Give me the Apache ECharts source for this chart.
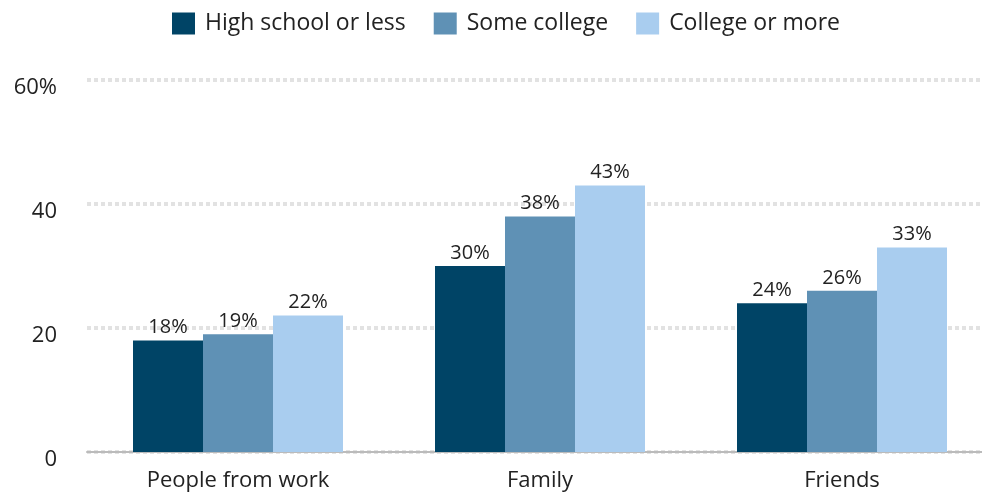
<!DOCTYPE html>
<html>
<head>
<meta charset="utf-8">
<script src="https://cdn.jsdelivr.net/npm/echarts@6/dist/echarts.min.js"></script>
<style>
 html, body { margin: 0; padding: 0; background: #fff; }
 #chart { width: 982px; height: 493px; }
</style>
</head>
<body>
<div id="chart"></div>
<script>
var categories = ['People from work', 'Family', 'Friends'];
var seriesNames = ['High school or less', 'Some college', 'College or more'];
var highSchool = [18, 30, 24];
var someCollege = [19, 38, 26];
var collegeMore = [22, 43, 33];
var yTicks = [0, 20, 40, 60];

var colors = ['#004466', '#5f91b5', '#a9cdef'];
var font = 'Open Sans';

var chart = echarts.init(document.getElementById('chart'));

function barSeries(name, data) {
    return {
        name: name,
        type: 'bar',
        barGap: 0,
        barWidth: 70,
        data: data,
        label: {
            show: true,
            position: 'top',
            distance: 3,
            formatter: '{c}%',
            color: '#222',
            fontSize: 20,
            fontFamily: font
        }
    };
}

var option = {
    animation: false,
    color: colors,
    legend: {
        top: 7,
        left: 167,
        itemWidth: 23,
        itemHeight: 22,
        itemGap: 28,
        icon: 'rect',
        textStyle: { fontSize: 23, color: '#222', fontFamily: font, padding: [0, 0, 0, 5] },
        data: seriesNames
    },
    grid: {
        left: 87,
        right: -11,
        top: 80,
        bottom: 41,
        outerBoundsMode: 'none'
    },
    xAxis: {
        type: 'category',
        data: categories,
        axisTick: { show: false },
        axisLine: { lineStyle: { color: '#bbbbbb', width: 2 } },
        axisLabel: { fontSize: 22, color: '#222', margin: 18, fontFamily: font }
    },
    yAxis: {
        type: 'value',
        min: yTicks[0],
        max: yTicks[yTicks.length - 1],
        interval: 20,
        axisLine: { show: false },
        axisTick: { show: false },
        axisLabel: {
            fontSize: 22,
            color: '#222',
            margin: 30,
            fontFamily: font,
            verticalAlign: 'top',
            lineHeight: 16,
            formatter: function (v) {
                return v === yTicks[yTicks.length - 1] ? v + '%' : v;
            }
        },
        splitLine: {
            lineStyle: { color: '#e2e2e2', width: 4, type: [4, 3] }
        }
    },
    series: [
        barSeries(seriesNames[0], highSchool),
        barSeries(seriesNames[1], someCollege),
        barSeries(seriesNames[2], collegeMore)
    ]
};

chart.setOption(option);
</script>
</body>
</html>
